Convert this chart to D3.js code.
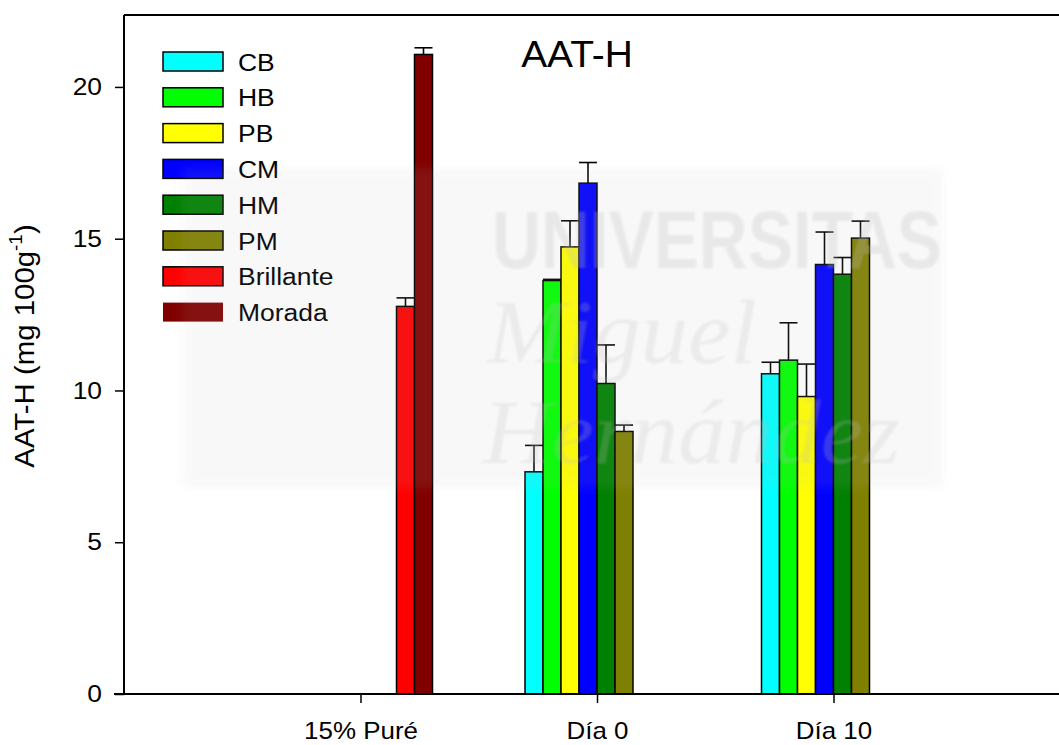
<!DOCTYPE html>
<html>
<head>
<meta charset="utf-8">
<script src="https://cdn.jsdelivr.net/npm/d3@7"></script>
<style>
  html, body { margin: 0; padding: 0; background: #fff; }
  svg { display: block; font-family: "Liberation Sans", Arial, sans-serif; }
</style>
</head>
<body>
<svg id="chart" width="1059" height="745"></svg>
<script>
// Sampling times (x categories)
const categories = ["15% Puré", "Día 0", "Día 10"];

// Series (one bar slot each inside every group)
const series = ["CB", "HB", "PB", "CM", "HM", "PM", "Brillante", "Morada"];
const seriesColors = ["#00FFFF", "#00FF00", "#FFFF00", "#0000FF", "#008000", "#808000", "#FF0000", "#800000"];

// Mean AAT-H (mg 100g-1) per series, by category (null = not measured)
const valCB        = [null, 7.32, 10.55];
const valHB        = [null, 13.62, 11.00];
const valPB        = [null, 14.73, 9.80];
const valCM        = [null, 16.83, 14.15];
const valHM        = [null, 10.23, 13.83];
const valPM        = [null, 8.65, 15.02];
const valBrillante = [12.77, null, null];
const valMorada    = [21.07, null, null];

// Standard error (upper bar only)
const errCB        = [null, 0.87, 0.38];
const errHB        = [null, 0.04, 1.23];
const errPB        = [null, 0.86, 1.07];
const errCM        = [null, 0.68, 1.07];
const errHM        = [null, 1.27, 0.55];
const errPM        = [null, 0.21, 0.56];
const errBrillante = [0.28, null, null];
const errMorada    = [0.22, null, null];

const yTicks = [0, 5, 10, 15, 20];

const values = [valCB, valHB, valPB, valCM, valHM, valPM, valBrillante, valMorada];
const errors = [errCB, errHB, errPB, errCM, errHM, errPM, errBrillante, errMorada];

const bars = [];
series.forEach((s, si) => {
  categories.forEach((c, ci) => {
    if (values[si][ci] != null) {
      bars.push({ series: s, color: seriesColors[si], cat: ci + 1, value: values[si][ci], err: errors[si][ci] });
    }
  });
});

// Widen glyphs horizontally by factor k (keeps the text anchor)
function widen(sel, k) {
  sel.each(function () {
    const w = this.getComputedTextLength();
    d3.select(this).attr("textLength", w * k).attr("lengthAdjust", "spacingAndGlyphs");
  });
}

const svg = d3.select("#chart");

const plotLeft = 124, plotBottom = 694, plotTop = 15;
const x = d3.scaleLinear().domain([0, 4]).range([plotLeft, 1070]);
const y = d3.scaleLinear().domain([0, 22.37]).range([plotBottom, plotTop]);
const slot = d3.scaleBand().domain(series).range([-72, 72]).paddingInner(0);

// Filters for the faint background watermark
const defs = svg.append("defs");
defs.append("filter").attr("id", "soft").attr("x", "-10%").attr("y", "-10%").attr("width", "120%").attr("height", "120%")
  .append("feGaussianBlur").attr("stdDeviation", 1.2);
defs.append("filter").attr("id", "softer").attr("x", "-10%").attr("y", "-10%").attr("width", "120%").attr("height", "120%")
  .append("feGaussianBlur").attr("stdDeviation", 5);

// Bars
const gBars = svg.append("g");
gBars.selectAll("rect").data(bars).join("rect")
  .attr("x", d => x(d.cat) + slot(d.series))
  .attr("y", d => y(d.value))
  .attr("width", slot.bandwidth())
  .attr("height", d => y(0) - y(d.value))
  .attr("fill", d => d.color)
  .attr("stroke", "#000")
  .attr("stroke-width", 1.5);

// Error bars (upper)
const gErr = svg.append("g").attr("stroke", "#000").attr("stroke-width", 1.6);
bars.forEach(d => {
  const cx = x(d.cat) + slot(d.series) + slot.bandwidth() / 2;
  const hw = slot.bandwidth() / 2;
  gErr.append("line").attr("x1", cx).attr("x2", cx).attr("y1", y(d.value)).attr("y2", y(d.value + d.err));
  gErr.append("line").attr("x1", cx - hw).attr("x2", cx + hw).attr("y1", y(d.value + d.err)).attr("y2", y(d.value + d.err));
});

// Legend
const legend = svg.append("g").attr("transform", "translate(163,52)");
series.forEach((s, i) => {
  const row = legend.append("g").attr("transform", `translate(0,${i * 35.8})`);
  row.append("rect").attr("width", 60).attr("height", 19)
    .attr("fill", seriesColors[i])
    .attr("stroke", s === "Morada" ? "none" : "#000")
    .attr("stroke-width", 1.5);
  row.append("text").attr("x", 75).attr("y", 18.5)
    .attr("font-size", 23).attr("fill", "#000").text(s)
    .call(widen, 1.15);
});

// Watermark overlay
const wm = svg.append("g").attr("pointer-events", "none");
wm.append("rect").attr("x", 182).attr("y", 168).attr("width", 762).attr("height", 320)
  .attr("fill", "#bebebe").attr("opacity", 0.09).attr("filter", "url(#softer)");
wm.append("text").attr("x", 492).attr("y", 268)
  .attr("font-size", 82).attr("font-weight", "bold")
  .attr("textLength", 450).attr("lengthAdjust", "spacingAndGlyphs")
  .attr("fill", "#bebebe").attr("opacity", 0.26).attr("filter", "url(#soft)")
  .text("UNIVERSITAS");
wm.append("text").attr("x", 487).attr("y", 363)
  .attr("font-size", 90).attr("font-style", "italic")
  .style("font-family", "'Liberation Serif', serif")
  .attr("textLength", 270).attr("lengthAdjust", "spacingAndGlyphs")
  .attr("fill", "#bebebe").attr("opacity", 0.22).attr("filter", "url(#soft)")
  .text("Miguel");
wm.append("text").attr("x", 483).attr("y", 463)
  .attr("font-size", 92).attr("font-style", "italic")
  .style("font-family", "'Liberation Serif', serif")
  .attr("textLength", 417).attr("lengthAdjust", "spacingAndGlyphs")
  .attr("fill", "#bebebe").attr("opacity", 0.22).attr("filter", "url(#soft)")
  .text("Hernández");

// Axes
const yAxis = d3.axisLeft(y).tickValues(yTicks).tickSize(9).tickPadding(13).tickFormat(d3.format("d"));
const gy = svg.append("g").attr("transform", `translate(${plotLeft},0)`).call(yAxis);
gy.select(".domain").attr("stroke-width", 2).attr("d", `M0,${plotTop}V${plotBottom}`);
gy.selectAll(".tick line").attr("stroke-width", 1.5);
gy.selectAll(".tick text").attr("font-size", 24).attr("fill", "#000")
  .style("font-family", "'Liberation Sans', Arial, sans-serif")
  .call(widen, 1.1);

const xAxis = d3.axisBottom(x).tickValues([1, 2, 3]).tickSize(9).tickPadding(19)
  .tickFormat(d => categories[d - 1]);
const gx = svg.append("g").attr("transform", `translate(0,${plotBottom})`).call(xAxis);
gx.select(".domain").attr("stroke-width", 2).attr("d", `M${plotLeft - 10},0H1059`);
gx.selectAll(".tick line").attr("stroke-width", 1.5);
gx.selectAll(".tick text").attr("font-size", 24).attr("fill", "#000")
  .style("font-family", "'Liberation Sans', Arial, sans-serif")
  .call(widen, 1.08);

// Top frame line
svg.append("line").attr("x1", plotLeft).attr("x2", 1059).attr("y1", plotTop).attr("y2", plotTop)
  .attr("stroke", "#000").attr("stroke-width", 2);

// Title
svg.append("text").attr("x", 577).attr("y", 67).attr("text-anchor", "middle")
  .attr("font-size", 36).attr("fill", "#000").text("AAT-H")
  .call(widen, 1.08);

// Y axis title with superscript
const yt = svg.append("text")
  .attr("transform", "translate(34,346) rotate(-90)")
  .attr("text-anchor", "middle").attr("font-size", 28).attr("fill", "#000");
yt.append("tspan").text("AAT-H (mg 100g");
yt.append("tspan").attr("font-size", 18).attr("dy", "-12").text("-1");
yt.append("tspan").attr("dy", "12").text(")");
yt.call(widen, 1.05);
</script>
</body>
</html>
